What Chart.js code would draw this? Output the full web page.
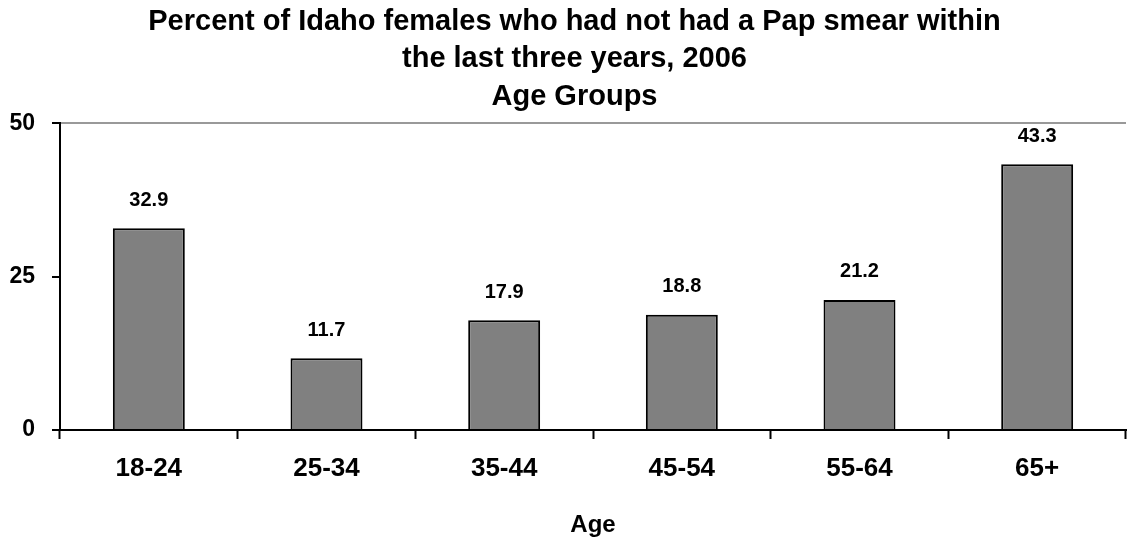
<!DOCTYPE html>
<html>
<head>
<meta charset="utf-8">
<title>Pap smear 2006</title>
<script src="https://cdn.jsdelivr.net/npm/chart.js@4"></script>
<style>
  html, body { margin: 0; padding: 0; background: #fff; }
  #wrap { width: 1127px; height: 541px; }
</style>
</head>
<body>
<div id="wrap"><canvas id="chart" width="1127" height="541"></canvas></div>
<script>
var ageGroups = ["18-24", "25-34", "35-44", "45-54", "55-64", "65+"];
var pctNoPap = [32.9, 11.7, 17.9, 18.8, 21.2, 43.3];
var yTicks = [0, 25, 50];

var FONT = "'Liberation Sans', Arial, sans-serif";

// writes the value above each bar
var valueLabels = {
  id: 'valueLabels',
  afterLayout: function(chart) {
    // nudge the title block a little right of the canvas centre
    if (chart.titleBlock) chart.titleBlock.left = 23;
  },
  afterDatasetsDraw: function(chart) {
    var ctx = chart.ctx;
    var meta = chart.getDatasetMeta(0);
    ctx.save();
    ctx.fillStyle = '#000';
    ctx.font = 'bold 20px ' + FONT;
    ctx.textAlign = 'center';
    ctx.textBaseline = 'middle';
    meta.data.forEach(function(bar, i) {
      ctx.fillText(pctNoPap[i].toFixed(1), bar.x, bar.y - 28);
    });
    ctx.restore();
  }
};

var barChartData = {
  labels: ageGroups,
  datasets: [{
    data: pctNoPap,
    backgroundColor: '#808080',
    borderColor: '#000',
    borderWidth: 2,
    categoryPercentage: 1,
    barPercentage: 0.405
  }]
};

window.onload = function() {
  var ctx = document.getElementById('chart').getContext('2d');
  window.theChart = new Chart(ctx, {
    type: 'bar',
    data: barChartData,
    plugins: [valueLabels],
    options: {
      responsive: false,
      animation: false,
      layout: { padding: { left: 0, right: 1, top: 0, bottom: 1 } },
      plugins: {
        legend: { display: false },
        tooltip: { enabled: false },
        title: {
          display: true,
          text: ['Percent of Idaho females who had not had a Pap smear within',
                 'the last three years, 2006', 'Age Groups'],
          color: '#000',
          font: { family: FONT, size: 29, weight: 'bold', lineHeight: 1.29 },
          padding: { top: 3, bottom: 8 }
        }
      },
      scales: {
        x: {
          offset: true,
          grid: {
            offset: true,
            drawOnChartArea: false,
            tickLength: 9,
            tickColor: '#000',
            tickWidth: 2
          },
          border: { color: '#000', width: 2 },
          ticks: {
            color: '#000',
            padding: 14,
            font: { family: FONT, size: 26, weight: 'bold' }
          },
          title: {
            display: true,
            text: 'Age',
            color: '#000',
            padding: { top: 13, bottom: 0 },
            font: { family: FONT, size: 24, weight: 'bold' }
          }
        },
        y: {
          min: 0,
          max: 50,
          afterBuildTicks: function(axis) {
            axis.ticks = yTicks.map(function(v) { return { value: v }; });
          },
          afterFit: function(axis) { axis.width = 60; },
          grid: {
            color: function(c) { return c.tick && c.tick.value === 50 ? '#999' : 'rgba(0,0,0,0)'; },
            lineWidth: 2,
            tickLength: 8,
            tickColor: '#000',
            tickWidth: 2
          },
          border: { color: '#000', width: 2 },
          ticks: {
            color: '#000',
            padding: 17,
            font: { family: FONT, size: 23, weight: 'bold' }
          }
        }
      }
    }
  });
};
</script>
</body>
</html>
